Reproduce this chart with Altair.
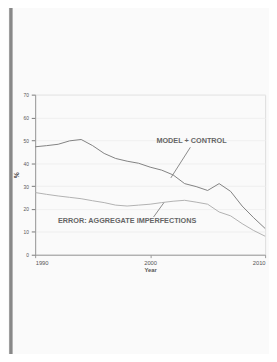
import altair as alt
import pandas as pd

years = list(range(1990, 2011))
series_a = [47.2, 47.7, 48.3, 49.8, 50.4, 47.7, 44.3, 42.1, 40.9, 40.0, 38.3,
            37.0, 34.9, 31.1, 29.8, 28.1, 31.1, 27.7, 21.3, 16.2, 11.5]
series_b = [27.2, 26.4, 25.7, 25.1, 24.5, 23.6, 22.8, 21.7, 21.3, 21.7, 22.1,
            22.8, 23.4, 23.8, 23.0, 22.1, 18.7, 17.0, 13.6, 10.6, 8.1]
y_ticks = [0, 10, 20, 30, 40, 50, 60, 70]
x_ticks = [1990, 2000, 2010]

label_a = "MODEL + CONTROL"
label_b = "ERROR: AGGREGATE IMPERFECTIONS"

df = pd.DataFrame({
    "year": years * 2,
    "value": series_a + series_b,
    "series": ["A"] * len(years) + ["B"] * len(years),
})

x_enc = alt.X("year:Q", scale=alt.Scale(domain=[1990, 2010], nice=False),
              axis=alt.Axis(values=x_ticks, format="d", title="Year", grid=False,
                            labelFontSize=6, titleFontSize=6, tickSize=3,
                            labelPadding=2, titlePadding=1, domainColor="#999",
                            tickColor="#999", labelColor="#555", titleColor="#555",
                            labelFlush=True, labelOverlap=False))
y_enc = alt.Y("value:Q", scale=alt.Scale(domain=[0, 70], nice=False),
              axis=alt.Axis(values=y_ticks, tickCount=8, title="%", grid=True, gridColor="#eeeeee",
                            labelFontSize=5, titleFontSize=7, tickSize=4,
                            labelPadding=3, titlePadding=4, domainColor="#999",
                            tickColor="#777", labelColor="#555", titleColor="#333",
                            labelOverlap=False, labelSeparation=0, labelBound=False))

lines = alt.Chart(df).mark_line(strokeWidth=1).encode(
    x=x_enc, y=y_enc,
    color=alt.Color("series:N", scale=alt.Scale(domain=["A", "B"], range=["#7f7f7f", "#b0b0b0"]),
                    legend=None),
)

ann = pd.DataFrame({
    "x": [2003.5, 2000.3],
    "y": [47.0, 16.5],
    "x2": [2001.8, 2001.2],
    "y2": [33.6, 22.8],
    "text": [label_a, label_b],
    "tx": [2003.6, 1998.0],
    "ty": [49.8, 14.8],
})

leaders = alt.Chart(ann).mark_rule(color="#888", strokeWidth=1).encode(
    x="x:Q", y="y:Q", x2="x2:Q", y2="y2:Q")

texts = alt.Chart(ann).mark_text(fontSize=7.5, fontWeight="bold", color="#666",
                                 align="center", baseline="middle").encode(
    x="tx:Q", y="ty:Q", text="text:N")

frame = alt.Chart(ann).mark_rule(color="#888", strokeWidth=3).encode(
    x=alt.value(-25), y=alt.value(-92), y2=alt.value(270))

chart = alt.layer(frame, lines, leaders, texts).properties(
    width=237, height=165,
    padding={"left": 28, "top": 84, "right": 4, "bottom": 97},
    autosize=alt.AutoSizeParams(type="none"),
).configure_view(stroke="#aaaaaa").configure_axis(labelOverlap=False).configure(
    font="Liberation Sans", background="#fafafa")

chart.save("out.html", embed_options={"renderer": "svg", "actions": False})
